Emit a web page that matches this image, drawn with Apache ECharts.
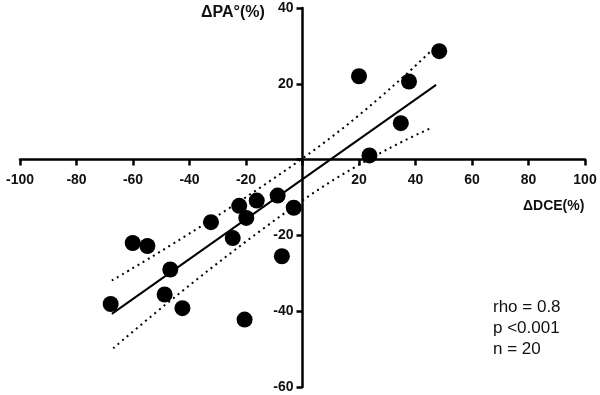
<!DOCTYPE html>
<html>
<head>
<meta charset="utf-8">
<script src="https://cdn.jsdelivr.net/npm/echarts@6/dist/echarts.min.js"></script>
<style>
  html, body { margin: 0; padding: 0; background: #fff; }
  #chart { width: 600px; height: 395px; }
</style>
</head>
<body>
<div id="chart"></div>
<script>
// ΔDCE (%) vs ΔPA° (%), one point per subject
const deltaDCE = [-67.9, -60.1, -54.9, -46.8, -48.8, -42.5, -32.4, -24.7, -22.4, -19.9,
                  -16.2, -8.8, -3.1, -7.3, -20.5, 20.0, 48.4, 37.7, 34.8, 23.7];
const deltaPA = [-38.1, -22.0, -22.8, -29.0, -35.6, -39.2, -16.5, -20.7, -12.2, -15.4,
                 -10.8, -9.5, -12.7, -25.5, -42.2, 22.0, 28.6, 20.6, 9.6, 1.1];

// fitted line and 95% band
const fitLine = [[-67.5, -40.7], [47.3, 19.7]];
const upperBand = [[-67.5, -31.9], [2.6, 1.7], [45.1, 28.4]];
const lowerBand = [[-67.0, -49.8], [1.9, -9.8], [45.7, 8.4]];

const statsText = ['rho = 0.8', 'p <0.001', 'n = 20'];

const points = deltaDCE.map((x, i) => [x, deltaPA[i]]);
const font = 'Liberation Sans';

const W = 600, H = 395;
const grid = { left: 20, right: 15, top: 8, bottom: 8 };
const xMin = -100, xMax = 100, yMin = -60, yMax = 40;
// shift the axes so they cross at the origin, labels included
const xOffset = -(H - grid.top - grid.bottom) * (0 - yMin) / (yMax - yMin);
const yOffset = -(W - grid.left - grid.right) * (0 - xMin) / (xMax - xMin);

const chart = echarts.init(document.getElementById('chart'));
const option = {
  animation: false,
  grid: Object.assign({ outerBoundsMode: 'none', containLabel: false }, grid),
  xAxis: {
    type: 'value', position: 'bottom', offset: xOffset,
    min: xMin, max: xMax, interval: 20,
    axisLine: { onZero: false, lineStyle: { color: '#000', width: 2.5 } },
    axisTick: { show: true, length: 6, lineStyle: { color: '#000', width: 2.5 } },
    axisLabel: {
      margin: 14, color: '#111', fontFamily: font, fontWeight: 'bold', fontSize: 14,
      formatter: v => v === 0 ? '' : v
    },
    splitLine: { show: false }
  },
  yAxis: {
    type: 'value', position: 'left', offset: yOffset,
    min: yMin, max: yMax, interval: 20,
    axisLine: { show: true, onZero: false, lineStyle: { color: '#000', width: 2.5 } },
    axisTick: { show: true, length: 6, lineStyle: { color: '#000', width: 2.5 } },
    axisLabel: {
      margin: 9, color: '#111', fontFamily: font, fontWeight: 'bold', fontSize: 14,
      formatter: v => v === 0 ? '' : v
    },
    splitLine: { show: false }
  },
  graphic: [
    { type: 'text', left: 201, top: 5,
      style: { text: 'ΔPA°(%)', fill: '#111', font: 'bold 16px "Liberation Sans"' } },
    { type: 'text', left: 523, top: 199,
      style: { text: 'ΔDCE(%)', fill: '#111', font: 'bold 14px "Liberation Sans"' } },
    { type: 'text', left: 493, top: 297,
      style: { text: statsText.join('\n'), fill: '#111', lineHeight: 21,
               font: '17px "Liberation Sans"' } }
  ],
  series: [
    {
      type: 'line', data: upperBand, smooth: true, symbol: 'none',
      lineStyle: { color: '#000', width: 2, type: [2, 4] }
    },
    {
      type: 'line', data: lowerBand, smooth: true, symbol: 'none',
      lineStyle: { color: '#000', width: 2, type: [2, 4] }
    },
    {
      type: 'line', data: fitLine, symbol: 'none',
      lineStyle: { color: '#000', width: 2 }
    },
    {
      type: 'scatter', data: points, symbolSize: 16,
      itemStyle: { color: '#000', opacity: 1 }
    }
  ]
};
chart.setOption(option);
</script>
</body>
</html>
